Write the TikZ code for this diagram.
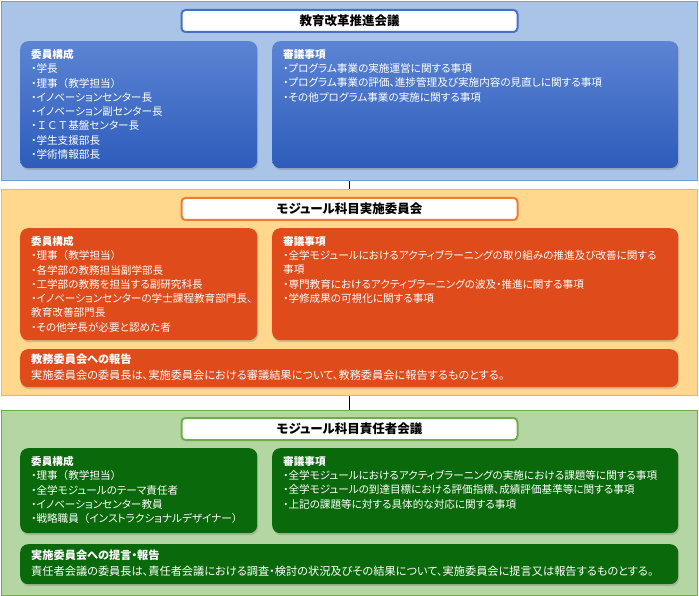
\documentclass[tikz,border=0pt]{standalone}
\usepackage{fontspec}
\setmainfont{Noto Sans CJK JP}[RawFeature={+palt}]
\newfontfamily\voll{Noto Sans CJK JP}
\usepackage{tikz}
\usetikzlibrary{positioning}
\usetikzlibrary{shadows}
\definecolor{blaubg}{HTML}{A9C4E7}
\definecolor{blaurand}{HTML}{6A9FD8}
\definecolor{blauoben}{HTML}{5C84D4}
\definecolor{blauunten}{HTML}{2D5CBB}
\definecolor{blautitel}{HTML}{4472C4}
\definecolor{gelbbg}{HTML}{FFD88E}
\definecolor{gelbrand}{HTML}{FFC000}
\definecolor{orangebox}{HTML}{E04B1B}
\definecolor{orangetitel}{HTML}{ED7D31}
\definecolor{gruenbg}{HTML}{B4D6A3}
\definecolor{gruenrand}{HTML}{70AD47}
\definecolor{gruenbox}{HTML}{0A690A}

\begin{document}
\begin{tikzpicture}[
x=1pt, y=-1pt,
font=\fontsize{10.6}{14.3}\selectfont,
panel/.style={rectangle, anchor=north west, line width=1pt, inner sep=0pt, minimum width=696pt},
titlebox/.style={rectangle, rounded corners=4pt, fill=white, line width=2pt, inner sep=0pt,
  minimum width=336pt, minimum height=22pt, text=black, font=\fontsize{12.5}{15}\selectfont\bfseries},
infobox/.style={rectangle, rounded corners=8pt, anchor=north west, inner sep=0pt,
  drop shadow={shadow xshift=1pt, shadow yshift=-2pt, opacity=.35}},
infotext/.style={align=left, text=white, inner sep=0pt},
widetext/.style={infotext, font=\fontsize{11.2}{15.5}\selectfont},
link/.style={line width=1.3pt, color=black}
]

\def\lw{237}
\def\rw{406}
\def\fw{658}

\useasboundingbox (0,0) rectangle (699,596);

% Rahmen
\node[panel, fill=blaubg, draw=blaurand, minimum height=179pt] (kaikaku) at (1,1) {};
\node[panel, fill=gelbbg, draw=gelbrand, minimum height=206pt] (jisshi) at (1,189) {};
\node[panel, fill=gruenbg, draw=gruenrand, minimum height=185pt] (sekinin) at (1,410) {};

% Verbindungslinien
\foreach \a/\b in {kaikaku/jisshi, jisshi/sekinin}
\draw[link] (\a.south) -- (\b.north);

% Titel
\node[titlebox, draw=blautitel, below=8pt of kaikaku.north] (kaikakuT) {教育改革推進会議};
\node[titlebox, draw=orangetitel, below=8pt of jisshi.north] (jisshiT) {モジュール科目実施委員会};
\node[titlebox, draw=gruenrand, below=7pt of sekinin.north] (sekininT) {モジュール科目責任者会議};

%教育改革推進会議
\node[infobox, top color=blauoben, bottom color=blauunten, minimum width=\lw pt, minimum height=127pt] (kaikakuL) at (20,41) {};
\node[infobox, top color=blauoben, bottom color=blauunten, minimum width=\rw pt, minimum height=127pt] (kaikakuR) at (272,41) {};
\node[infotext, below right=8pt and 11pt of kaikakuL.north west] (kaikakuLtxt) {\textbf{委員構成}\\
・学長\\
・理事{\voll （}教学担当{\voll ）}\\
・イノベーションセンター長\\
・イノベーション副センター長\\
・{\voll ＩＣＴ}基盤センター長\\
・学生支援部長\\
・学術情報部長};
\node[infotext, below right=8pt and 11pt of kaikakuR.north west] (kaikakuRtxt) {\textbf{審議事項}\\
・プログラム事業の実施運営に関する事項\\
・プログラム事業の評価、進捗管理及び実施内容の見直しに関する事項\\
・その他プログラム事業の実施に関する事項};

% モジュール科目実施委員会
\node[infobox, fill=orangebox, minimum width=\lw pt, minimum height=112pt] (jisshiL) at (20,228) {};
\node[infobox, fill=orangebox, minimum width=\rw pt, minimum height=112pt] (jisshiR) at (272,228) {};
\node[infobox, fill=orangebox, minimum width=\fw pt, minimum height=38pt] (jisshiB) at (20,349) {};
\node[infotext, below right=8pt and 11pt of jisshiL.north west] (jisshiLtxt) {\textbf{委員構成}\\
・理事{\voll （}教学担当{\voll ）}\\
・各学部の教務担当副学部長\\
・工学部の教務を担当する副研究科長\\
・イノベーションセンターの学士課程教育部門長、\\
教育改善部門長\\
・その他学長が必要と認めた者};
\node[infotext, below right=8pt and 11pt of jisshiR.north west] (jisshiRtxt) {\textbf{審議事項}\\
・全学モジュールにおけるアクティブラーニングの取り組みの推進及び改善に関する\\
事項\\
・専門教育におけるアクティブラーニングの波及・推進に関する事項\\
・学修成果の可視化に関する事項};
\node[widetext, below right=5pt and 11pt of jisshiB.north west] (jisshiBtxt) {\textbf{教務委員会への報告}\\
実施委員会の委員長は、実施委員会における審議結果について、教務委員会に報告するものとする。};

% モジュール科目責任者会議
\node[infobox, fill=gruenbox, minimum width=\lw pt, minimum height=85pt] (sekininL) at (20,448) {};
\node[infobox, fill=gruenbox, minimum width=\rw pt, minimum height=85pt] (sekininR) at (272,448) {};
\node[infobox, fill=gruenbox, minimum width=\fw pt, minimum height=40pt] (sekininB) at (20,544) {};
\node[infotext, below right=8pt and 11pt of sekininL.north west] (sekininLtxt) {\textbf{委員構成}\\
・理事{\voll （}教学担当{\voll ）}\\
・全学モジュールのテーマ責任者\\
・イノベーションセンター教員\\
・戦略職員{\voll （}インストラクショナルデザイナー{\voll ）}};
\node[infotext, below right=8pt and 11pt of sekininR.north west] (sekininRtxt) {\textbf{審議事項}\\
・全学モジュールにおけるアクティブラーニングの実施における課題等に関する事項\\
・全学モジュールの到達目標における評価指標、成績評価基準等に関する事項\\
・上記の課題等に対する具体的な対応に関する事項};
\node[widetext, below right=6pt and 11pt of sekininB.north west] (sekininBtxt) {\textbf{実施委員会への提言・報告}\\
責任者会議の委員長は、責任者会議における調査・検討の状況及びその結果について、実施委員会に提言又は報告するものとする。};
\end{tikzpicture}
\end{document}
